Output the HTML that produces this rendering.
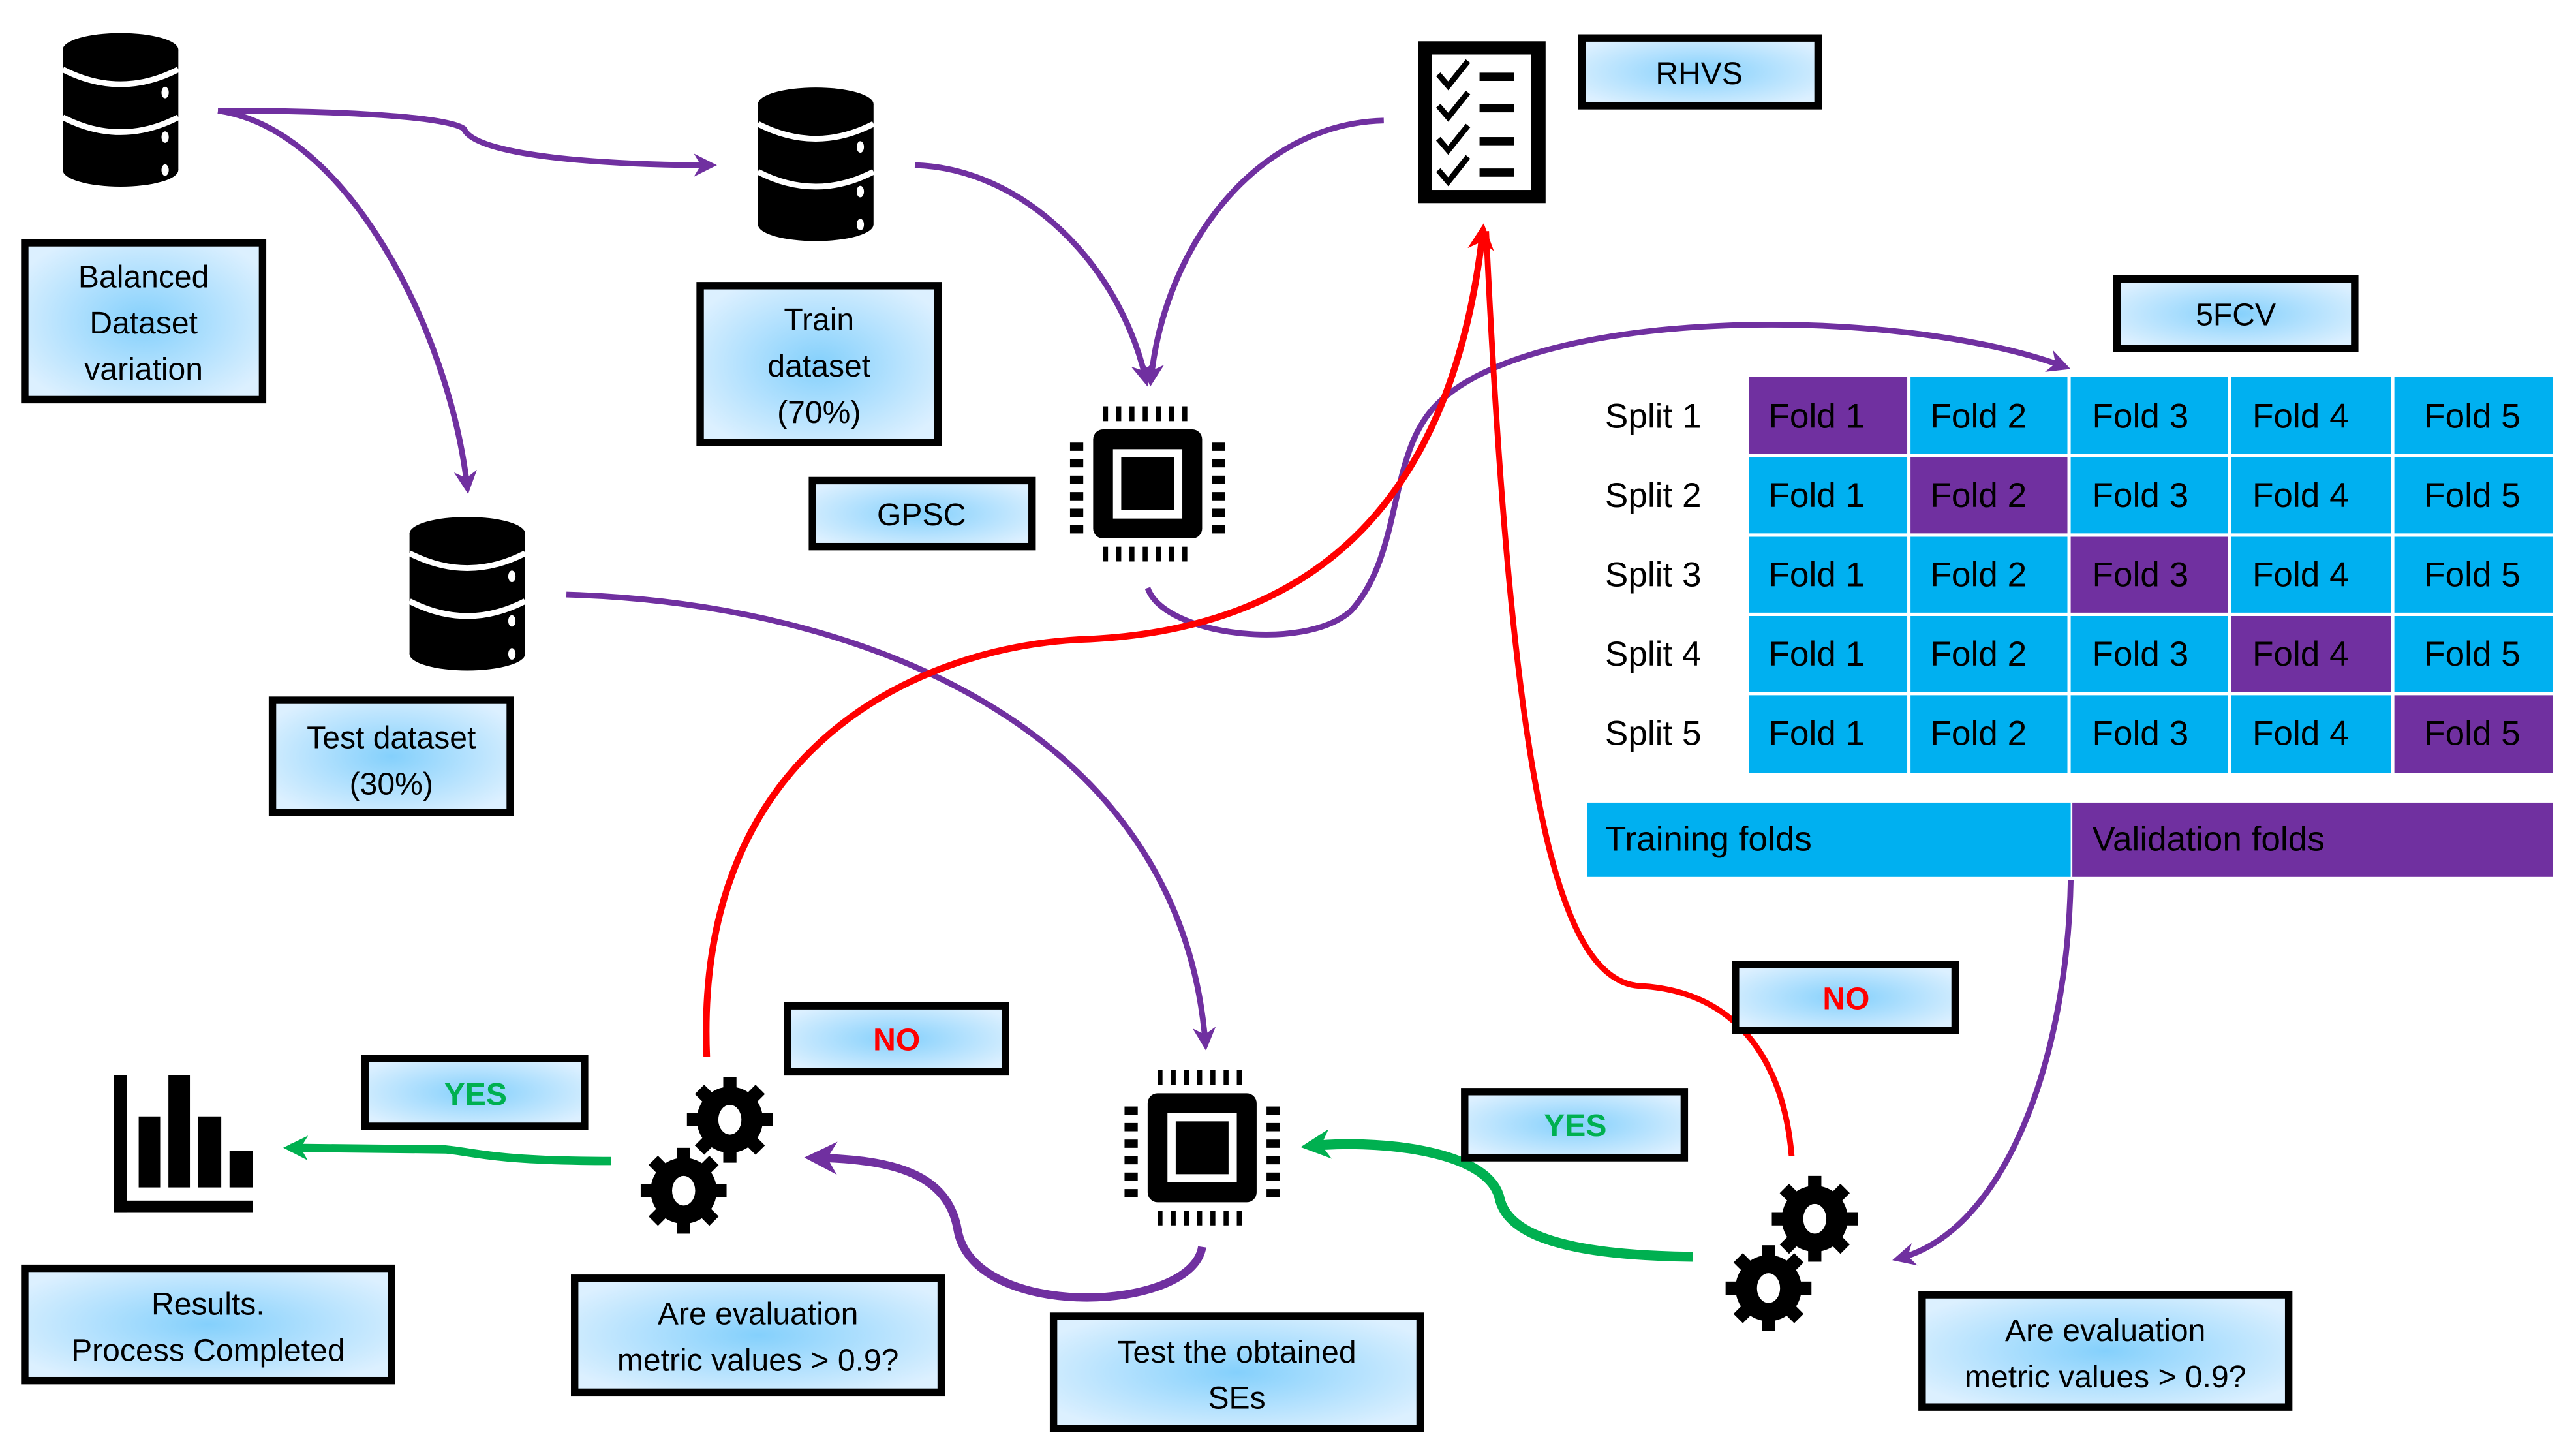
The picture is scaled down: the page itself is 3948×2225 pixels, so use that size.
<!DOCTYPE html>
<html><head><meta charset="utf-8"><style>
html,body{margin:0;padding:0;background:#fff;width:3948px;height:2225px;overflow:hidden}
svg{display:block}
text{font-family:"Liberation Sans",sans-serif;}
</style></head><body>
<svg width="3948" height="2225" viewBox="0 0 1560 879.2" preserveAspectRatio="none" xmlns="http://www.w3.org/2000/svg">
<defs>
<radialGradient id="bg" cx="0.5" cy="0.5" r="0.6">
<stop offset="0" stop-color="#84d0fc"/><stop offset="1" stop-color="#dcf0ff"/>
</radialGradient>
<marker id="mp" viewBox="0 0 10 10" refX="7" refY="5" markerWidth="4" markerHeight="4" orient="auto" markerUnits="strokeWidth"><path d="M0,0 L10,5 L0,10 L3,5 Z" fill="#7030a0"/></marker>
<marker id="mr" viewBox="0 0 10 10" refX="7" refY="5" markerWidth="4" markerHeight="4" orient="auto" markerUnits="strokeWidth"><path d="M0,0 L10,5 L0,10 L3,5 Z" fill="#ff0000"/></marker>
<marker id="mg" viewBox="0 0 10 10" refX="7" refY="5" markerWidth="3" markerHeight="3" orient="auto" markerUnits="strokeWidth"><path d="M0,0 L10,5 L0,10 L3,5 Z" fill="#00b050"/></marker>
<g id="db">
<rect x="0" y="10" width="70" height="73" fill="#000"/>
<ellipse cx="35" cy="10" rx="35" ry="10" fill="#000"/>
<ellipse cx="35" cy="83" rx="35" ry="10" fill="#000"/>
<path d="M0,22 Q35,40 70,22" stroke="#fff" stroke-width="3.5" fill="none"/>
<path d="M0,51 Q35,69 70,51" stroke="#fff" stroke-width="3.5" fill="none"/>
<ellipse cx="62" cy="36" rx="2.2" ry="3.5" fill="#fff"/>
<ellipse cx="62" cy="63" rx="2.2" ry="3.5" fill="#fff"/>
<ellipse cx="62" cy="83" rx="2.2" ry="3.5" fill="#fff"/>
</g>
<g id="cpu">
<rect x="14" y="14" width="66" height="66" rx="6" fill="#000"/>
<rect x="26" y="26" width="42" height="42" fill="#fff"/>
<rect x="31" y="31" width="32" height="32" fill="#000"/>
<g fill="#000">
<rect x="20" y="0" width="3" height="9"/><rect x="28" y="0" width="3" height="9"/><rect x="36" y="0" width="3" height="9"/><rect x="44" y="0" width="3" height="9"/><rect x="52" y="0" width="3" height="9"/><rect x="60" y="0" width="3" height="9"/><rect x="68" y="0" width="3" height="9"/>
<rect x="20" y="85" width="3" height="9"/><rect x="28" y="85" width="3" height="9"/><rect x="36" y="85" width="3" height="9"/><rect x="44" y="85" width="3" height="9"/><rect x="52" y="85" width="3" height="9"/><rect x="60" y="85" width="3" height="9"/><rect x="68" y="85" width="3" height="9"/>
<rect x="0" y="22" width="8" height="5"/><rect x="0" y="32" width="8" height="5"/><rect x="0" y="42" width="8" height="5"/><rect x="0" y="52" width="8" height="5"/><rect x="0" y="62" width="8" height="5"/><rect x="0" y="72" width="8" height="5"/>
<rect x="86" y="22" width="8" height="5"/><rect x="86" y="32" width="8" height="5"/><rect x="86" y="42" width="8" height="5"/><rect x="86" y="52" width="8" height="5"/><rect x="86" y="62" width="8" height="5"/><rect x="86" y="72" width="8" height="5"/>
</g>
</g>
<g id="gear">
<circle cx="0" cy="0" r="20" fill="#000"/>
<g fill="#000">
<rect x="-4" y="-26" width="8" height="10"/>
<rect x="-4" y="-26" width="8" height="10" transform="rotate(45)"/>
<rect x="-4" y="-26" width="8" height="10" transform="rotate(90)"/>
<rect x="-4" y="-26" width="8" height="10" transform="rotate(135)"/>
<rect x="-4" y="-26" width="8" height="10" transform="rotate(180)"/>
<rect x="-4" y="-26" width="8" height="10" transform="rotate(225)"/>
<rect x="-4" y="-26" width="8" height="10" transform="rotate(270)"/>
<rect x="-4" y="-26" width="8" height="10" transform="rotate(315)"/>
</g>
<ellipse cx="0" cy="0" rx="7" ry="9" fill="#fff"/>
</g>
</defs>

<!-- connectors -->
<g fill="none" stroke-linecap="butt">
<path d="M132,67 C200,67 270,70 281,78 C288,95 370,100 430,100" stroke="#7030a0" stroke-width="3.5" marker-end="url(#mp)"/>
<path d="M132,67 C210,78 272,200 283,295" stroke="#7030a0" stroke-width="3.5" marker-end="url(#mp)"/>
<path d="M554,100 C620,102 678,160 694,230" stroke="#7030a0" stroke-width="3.5" marker-end="url(#mp)"/>
<path d="M838,73 C760,75 705,150 697,230" stroke="#7030a0" stroke-width="3.5" marker-end="url(#mp)"/>
<path d="M695,356 C705,385 790,395 818,370 C850,335 840,275 870,245 C930,185 1150,185 1250,222" stroke="#7030a0" stroke-width="3.5" marker-end="url(#mp)"/>
<path d="M343,360 C520,365 715,440 730,632" stroke="#7030a0" stroke-width="3.5" marker-end="url(#mp)"/>
<path d="M1254,533 C1252,640 1215,745 1150,762" stroke="#7030a0" stroke-width="3.5" marker-end="url(#mp)"/>
<path d="M728,755 C722,795 590,800 580,745 C574,710 540,702 493,701" stroke="#7030a0" stroke-width="5" marker-end="url(#mp)"/>
<path d="M1025,761 C940,760 912,745 908,725 C900,695 830,690 793,694" stroke="#00b050" stroke-width="6" marker-end="url(#mg)"/>
<path d="M370,703 C300,703 290,698 270,696 L176,695" stroke="#00b050" stroke-width="5" marker-end="url(#mg)"/>
<path d="M428,640 C420,450 560,390 660,387 C800,380 880,300 898,140" stroke="#ff0000" stroke-width="4" marker-end="url(#mr)"/>
<path d="M1085,700 C1080,640 1050,600 993,597 C940,594 915,460 900,140" stroke="#ff0000" stroke-width="3.5"/>
</g>

<!-- icons -->
<use href="#db" x="38" y="20"/>
<use href="#db" x="459" y="53"/>
<use href="#db" x="248" y="313"/>
<use href="#cpu" x="648" y="246"/>
<use href="#cpu" x="681" y="648"/>
<use href="#gear" transform="translate(442,678)"/>
<use href="#gear" transform="translate(414,721)"/>
<use href="#gear" transform="translate(1099,738)"/>
<use href="#gear" transform="translate(1071,780)"/>

<!-- checklist -->
<rect x="859" y="25" width="77" height="98" fill="#000"/>
<rect x="867" y="33" width="60" height="82" fill="#fff"/>
<g stroke="#000" stroke-width="3.5" fill="none">
<polyline points="871,45 877,52 889,37"/>
<polyline points="871,64 877,71 889,56"/>
<polyline points="871,84 877,91 889,76"/>
<polyline points="871,103 877,110 889,95"/>
</g>
<g fill="#000">
<rect x="896" y="44" width="21" height="5"/><rect x="896" y="63" width="21" height="5"/>
<rect x="896" y="83" width="21" height="5"/><rect x="896" y="102" width="21" height="5"/>
</g>
<!-- bar chart -->
<g fill="#000">
<rect x="69" y="651" width="8" height="83"/>
<rect x="69" y="727" width="84" height="7"/>
<rect x="84" y="676" width="13" height="43"/>
<rect x="102" y="651" width="13" height="68"/>
<rect x="120" y="676" width="14" height="43"/>
<rect x="139" y="697" width="14" height="22"/>
</g>

<!-- boxes -->
<g stroke="#000" stroke-width="4.5" fill="url(#bg)">
<rect x="15" y="147" width="144" height="95"/>
<rect x="424" y="173" width="144" height="95"/>
<rect x="492" y="291" width="133" height="40"/>
<rect x="165" y="424" width="144" height="68"/>
<rect x="958" y="23" width="143" height="41"/>
<rect x="1282" y="169" width="144" height="42"/>
<rect x="1051" y="584" width="133" height="40"/>
<rect x="887" y="661" width="133" height="40"/>
<rect x="1164" y="784" width="222" height="68"/>
<rect x="638" y="797" width="222" height="68"/>
<rect x="348" y="774" width="222" height="69"/>
<rect x="477" y="609" width="132" height="40"/>
<rect x="221" y="641" width="133" height="41"/>
<rect x="15" y="768" width="222" height="68"/>
</g>
<g font-size="19" text-anchor="middle" fill="#000">
<text x="87" y="174">Balanced</text><text x="87" y="202">Dataset</text><text x="87" y="230">variation</text>
<text x="496" y="200">Train</text><text x="496" y="228">dataset</text><text x="496" y="256">(70%)</text>
<text x="558" y="318">GPSC</text>
<text x="237" y="453">Test dataset</text><text x="237" y="481">(30%)</text>
<text x="1029" y="51">RHVS</text>
<text x="1354" y="197">5FCV</text>
<text x="1275" y="812">Are evaluation</text><text x="1275" y="840">metric values &gt; 0.9?</text>
<text x="749" y="825">Test the obtained</text><text x="749" y="853">SEs</text>
<text x="459" y="802">Are evaluation</text><text x="459" y="830">metric values &gt; 0.9?</text>
<text x="126" y="796">Results.</text><text x="126" y="824">Process Completed</text>
</g>
<g font-size="19" font-weight="bold" text-anchor="middle">
<text x="1118" y="611" fill="#ff0000">NO</text>
<text x="543" y="636" fill="#ff0000">NO</text>
<text x="954" y="688" fill="#00b050">YES</text>
<text x="288" y="669" fill="#00b050">YES</text>
</g>

<!-- grid -->
<g>
<rect x="1059" y="228" width="487" height="240" fill="#00b0f0"/>
<g fill="#7030a0">
<rect x="1059" y="228" width="97" height="48"/>
<rect x="1156" y="276" width="97" height="48"/>
<rect x="1253" y="324" width="97" height="48"/>
<rect x="1350" y="372" width="99" height="48"/>
<rect x="1449" y="420" width="97" height="48"/>
</g>
<g stroke="#fff" stroke-width="2">
<line x1="1156" y1="228" x2="1156" y2="468"/><line x1="1253" y1="228" x2="1253" y2="468"/>
<line x1="1350" y1="228" x2="1350" y2="468"/><line x1="1449" y1="228" x2="1449" y2="468"/>
<line x1="1059" y1="276" x2="1546" y2="276"/><line x1="1059" y1="324" x2="1546" y2="324"/>
<line x1="1059" y1="372" x2="1546" y2="372"/><line x1="1059" y1="420" x2="1546" y2="420"/>
</g>
<g font-size="21" fill="#000">
<text x="972" y="259">Split 1</text><text x="972" y="307">Split 2</text><text x="972" y="355">Split 3</text><text x="972" y="403">Split 4</text><text x="972" y="451">Split 5</text>
<text x="1071" y="259">Fold 1</text><text x="1169" y="259">Fold 2</text><text x="1267" y="259">Fold 3</text><text x="1364" y="259">Fold 4</text><text x="1468" y="259">Fold 5</text>
<text x="1071" y="307">Fold 1</text><text x="1169" y="307">Fold 2</text><text x="1267" y="307">Fold 3</text><text x="1364" y="307">Fold 4</text><text x="1468" y="307">Fold 5</text>
<text x="1071" y="355">Fold 1</text><text x="1169" y="355">Fold 2</text><text x="1267" y="355">Fold 3</text><text x="1364" y="355">Fold 4</text><text x="1468" y="355">Fold 5</text>
<text x="1071" y="403">Fold 1</text><text x="1169" y="403">Fold 2</text><text x="1267" y="403">Fold 3</text><text x="1364" y="403">Fold 4</text><text x="1468" y="403">Fold 5</text>
<text x="1071" y="451">Fold 1</text><text x="1169" y="451">Fold 2</text><text x="1267" y="451">Fold 3</text><text x="1364" y="451">Fold 4</text><text x="1468" y="451">Fold 5</text>
</g>
<rect x="961" y="486" width="293" height="45" fill="#00b0f0"/>
<rect x="1255" y="486" width="291" height="45" fill="#7030a0"/>
<g font-size="21" fill="#000"><text x="972" y="515">Training folds</text><text x="1267" y="515">Validation folds</text></g>
</g>
</svg>
</body></html>
